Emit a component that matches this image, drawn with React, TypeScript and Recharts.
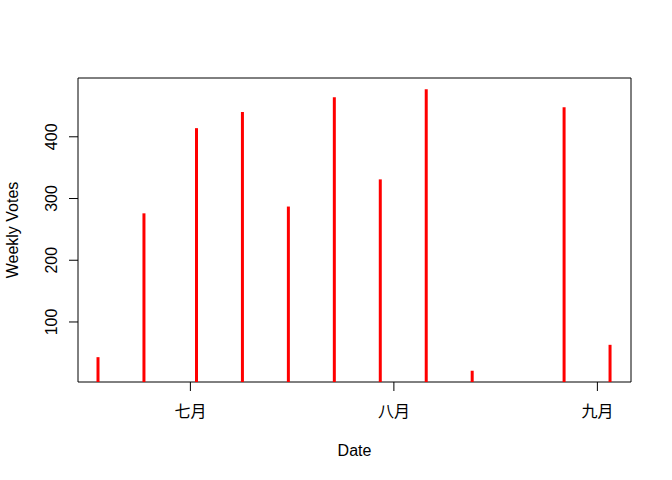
import React from 'react';
import { ComposedChart, Bar, XAxis, YAxis, ReferenceArea } from 'recharts';

const dates = ['2013-06-17', '2013-06-24', '2013-07-02', '2013-07-09', '2013-07-16', '2013-07-23', '2013-07-30', '2013-08-06', '2013-08-13', '2013-08-27', '2013-09-03'];
const votes = [43, 276, 414, 440, 287, 464, 331, 477, 21, 448, 63];
const monthTicks = ['2013-07-01', '2013-08-01', '2013-09-01'];
const monthLabels = ['七月', '八月', '九月'];
const voteTicks = [100, 200, 300, 400];

const toDay = (d: string) => Date.parse(d) / 86400000;

const data = dates.map((d, i) => ({ day: toDay(d), votes: votes[i] }));
const tickDays = monthTicks.map(toDay);

// R-style 4% padding on each side of the data range
const pad = (lo: number, hi: number): [number, number] => [lo - 0.04 * (hi - lo), hi + 0.04 * (hi - lo)];
const xDomain = pad(Math.min(...data.map(d => d.day)), Math.max(...data.map(d => d.day)));
const yDomain = pad(Math.min(...votes), Math.max(...votes));

const font = '"Liberation Sans", Arial, "Noto Sans CJK SC", sans-serif';

const XTick = (props: any) => {
  const { x, y, payload } = props;
  const idx = tickDays.indexOf(payload.value);
  return (
    <text x={x} y={y + 24} textAnchor="middle" fontSize={16} fontFamily={'"Noto Sans CJK SC", ' + font} fill="#000">
      {monthLabels[idx]}
    </text>
  );
};

const YTick = (props: any) => {
  const { x, y, payload } = props;
  return (
    <text transform={`translate(${x - 10},${y}) rotate(-90)`} textAnchor="middle" fontSize={16} fontFamily={font} fill="#000">
      {payload.value}
    </text>
  );
};

const App: React.FC = () => {
  return (
    <div style={{ position: 'fixed', left: 0, top: 0, width: 672, height: 480, background: '#fff' }}>
      <ComposedChart width={672} height={480} data={data} margin={{ top: 78, right: 41, bottom: 0, left: 0 }}>
        <XAxis
          dataKey="day"
          type="number"
          domain={xDomain}
          ticks={tickDays}
          tickSize={9}
          axisLine={false}
          tickLine={{ stroke: '#000' }}
          tick={<XTick />}
          height={98}
          label={{
            value: 'Date',
            content: (p: any) => (
              <text x={p.viewBox.x + p.viewBox.width / 2} y={p.viewBox.y + 74} textAnchor="middle" fontSize={16} fontFamily={font} fill="#000">
                Date
              </text>
            ),
          }}
        />
        <YAxis
          type="number"
          domain={yDomain}
          ticks={voteTicks}
          tickSize={9}
          axisLine={false}
          tickLine={{ stroke: '#000' }}
          tick={<YTick />}
          width={78}
          label={{
            value: 'Weekly Votes',
            content: (p: any) => (
              <text
                transform={`translate(${p.viewBox.x + 17.5},${p.viewBox.y + p.viewBox.height / 2}) rotate(-90)`}
                textAnchor="middle"
                fontSize={16}
                fontFamily={font}
                fill="#000"
              >
                Weekly Votes
              </text>
            ),
          }}
        />
        <Bar dataKey="votes" fill="#ff0000" barSize={3} isAnimationActive={false} />
        <ReferenceArea x1={xDomain[0]} x2={xDomain[1]} y1={yDomain[0]} y2={yDomain[1]} fill="none" stroke="#000" strokeWidth={1} fillOpacity={0} />
      </ComposedChart>
    </div>
  );
};

export default App;
